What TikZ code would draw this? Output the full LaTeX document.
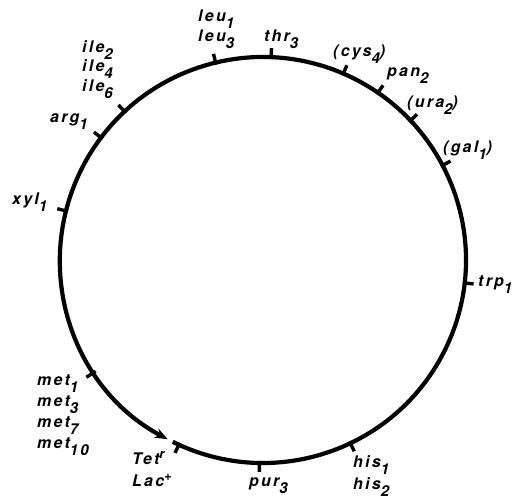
\documentclass[tikz,border=0pt]{standalone}
\usepackage{fontspec}
\setmainfont{TeX Gyre Heros}
\newfontfamily\labfont[LetterSpace=14]{TeX Gyre Heros}
\usetikzlibrary{arrows.meta,calc}
\newcommand\gsub[2]{#1\raisebox{-0.4em}{\fontsize{15}{15}\selectfont#2}}
\newcommand\gsup[2]{#1\raisebox{0.42em}{\fontsize{13}{13}\selectfont#2}}
\tikzset{
  lab/.style={anchor=base west, inner sep=0pt, font=\labfont\fontsize{16}{16}\selectfont\bfseries\itshape},
  ring/.style={line width=4.2pt},
  tickmark/.style={line width=3.4pt},
}
\begin{document}
\begin{tikzpicture}[x=1pt,y=1pt]
\useasboundingbox (0,0) rectangle (520,501);
\coordinate (c) at (263,241);
\coordinate (rs) at ($(c)+(243.6:203)$);
\draw[ring,-{Stealth[length=13pt,width=10pt]}] (rs) arc[start angle=243.6, end angle=602, radius=203];
\foreach \n/\a in {leu/103.5, thr/87.7, cys/66.7, pan/55.5, ura/43.4, gal/27.8, trp/-6.5, his/295.5, pur/269, tet/245.5, met/213.6, xyl/166, arg/142.9, ile/133}{
  \coordinate (i\n) at ($(c)+(\a:201)$);
  \coordinate (o\n) at ($(c)+(\a:212)$);
  \draw[tickmark] (i\n) -- (o\n);
}
\node[lab] (leuA) at (198,479) {\gsub{leu}{1}};
\node[lab] (leuB) at (198,459) {\gsub{leu}{3}};
\node[lab] (thr) at (264,459) {\gsub{thr}{3}};
\node[lab] (cys) at (333,444) {(\gsub{cys}{4})};
\node[lab] (pan) at (387,424) {\gsub{pan}{2}};
\node[lab] (ura) at (407,393) {(\gsub{ura}{2})};
\node[lab] (gal) at (443,348) {(\gsub{gal}{1})};
\node[lab] (trp) at (478,214) {\gsub{trp}{1}};
\node[lab] (hisA) at (353,33) {\gsub{his}{1}};
\node[lab] (hisB) at (353,11) {\gsub{his}{2}};
\node[lab] (pur) at (249,14) {\gsub{pur}{3}};
\node[lab] (tet) at (132,36) {\gsup{Tet}{r}};
\node[lab] (lac) at (132,14) {\gsup{Lac}{+}};
\node[lab] (metA) at (37,115) {\gsub{met}{1}};
\node[lab] (metB) at (37,94) {\gsub{met}{3}};
\node[lab] (metC) at (37,73) {\gsub{met}{7}};
\node[lab] (metD) at (37,52) {\gsub{met}{10}};
\node[lab] (xyl) at (12,296) {\gsub{xyl}{1}};
\node[lab] (arg) at (50,378) {\gsub{arg}{1}};
\node[lab] (ileA) at (82,448) {\gsub{ile}{2}};
\node[lab] (ileB) at (82,429) {\gsub{ile}{4}};
\node[lab] (ileC) at (82,409) {\gsub{ile}{6}};
\end{tikzpicture}
\end{document}
